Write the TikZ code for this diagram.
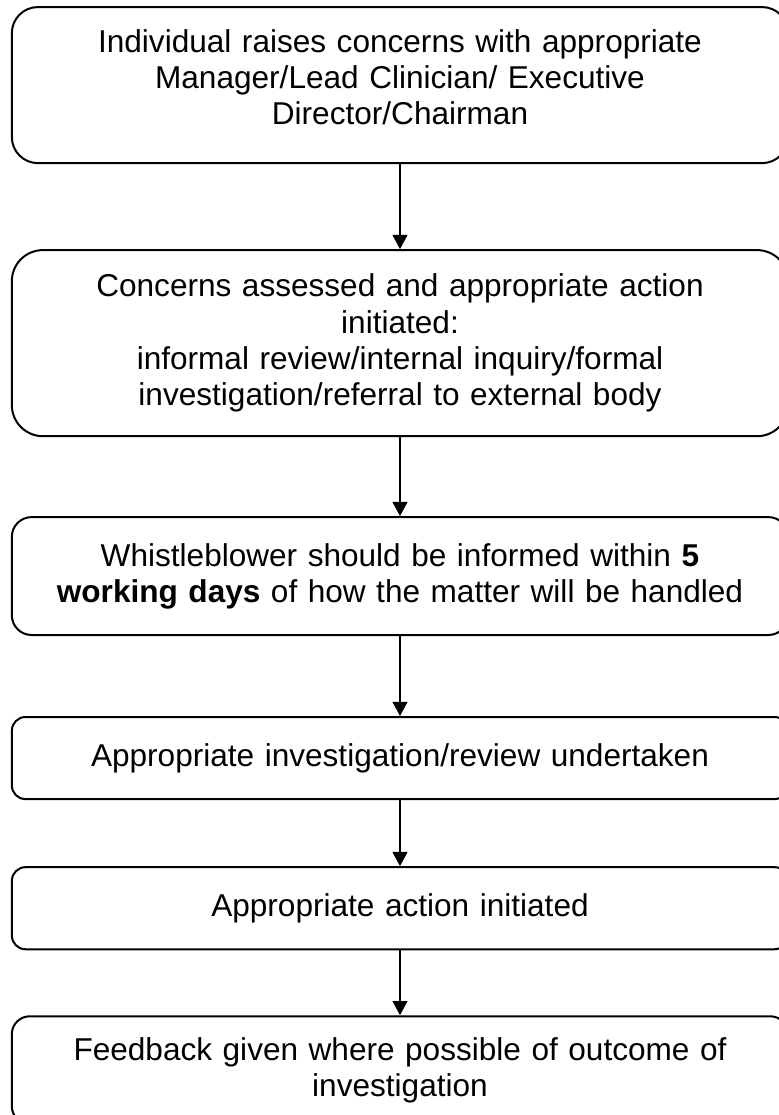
\documentclass[tikz,border=0pt]{standalone}
\usepackage{fontspec}
\setmainfont{Liberation Sans}
\usetikzlibrary{arrows.meta,positioning}

\begin{document}
\begin{tikzpicture}[
  font=\fontsize{12pt}{13.8pt}\selectfont,
  >={Triangle[width=5.6pt,length=5.4pt]},
  stage/.style={draw, line width=0.76pt, align=center, text width=270pt, minimum width=295pt},
  arr/.style={->, line width=0.76pt}
]
\useasboundingbox (0,0) rectangle (296pt,-423.7pt);
\clip (0,0) rectangle (296pt,-423.7pt);

\node[stage, rounded corners=9.9pt, minimum height=59.3pt, text depth=33.6pt, anchor=north] (raise) at (152pt,-2.3pt) {Individual raises concerns with appropriate\\ Manager/Lead Clinician/ Executive\\ Director/Chairman};

\node[stage, rounded corners=11.8pt, minimum height=70.7pt, below=32.3pt of raise] (assess) {Concerns assessed and appropriate action\\ initiated:\\ informal review/internal inquiry/formal\\ investigation/referral to external body};

\node[stage, rounded corners=7.5pt, minimum height=44.8pt, below=30pt of assess] (inform) {Whistleblower should be informed within \textbf{5}\\ \textbf{working days} of how the matter will be handled};

\node[stage, rounded corners=5.2pt, minimum height=31.2pt, below=30.4pt of inform] (review) {Appropriate investigation/review undertaken};

\node[stage, rounded corners=5.2pt, minimum height=31.2pt, below=25.1pt of review] (action) {Appropriate action initiated};

\node[stage, rounded corners=6.8pt, minimum height=41pt, below=24.7pt of action] (feedback) {Feedback given where possible of outcome of\\ investigation};

\draw[arr] (raise) -- (assess);
\draw[arr] (assess) -- (inform);
\draw[arr] (inform) -- (review);
\draw[arr] (review) -- (action);
\draw[arr] (action) -- (feedback);

\end{tikzpicture}
\end{document}
